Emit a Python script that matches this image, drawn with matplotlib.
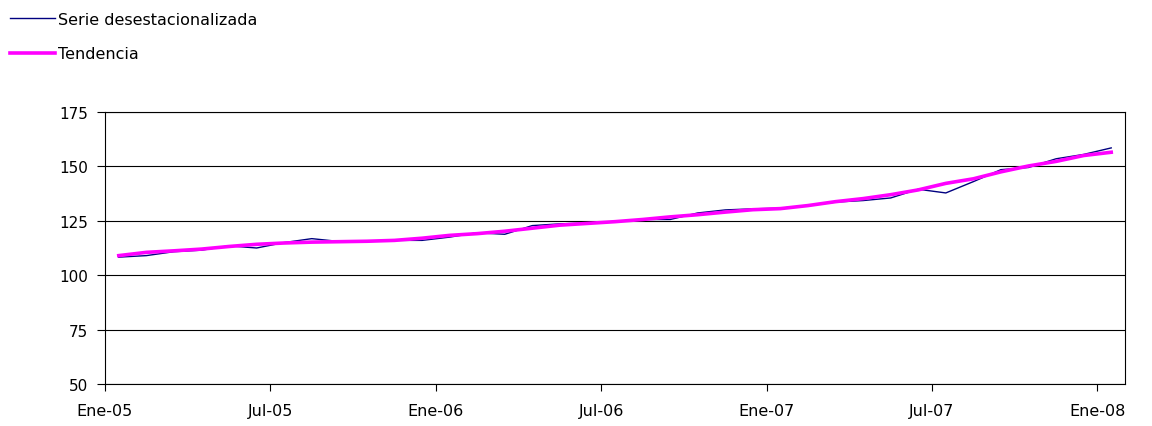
import numpy as np
import matplotlib
matplotlib.use("Agg")
import matplotlib.pyplot as plt

plt.rcParams['font.family'] = ['DejaVu Sans']

# monthly values, Ene-05 .. Ene-08
serie = [108.3, 109.0, 110.8, 111.5, 113.5, 112.5, 115.0, 116.8, 115.5, 115.5,
         116.0, 116.0, 117.5, 119.5, 118.8, 122.8, 123.6, 124.0, 124.6, 125.6,
         125.6, 128.6, 130.0, 130.5, 130.8, 132.0, 133.6, 134.3, 135.5, 139.5,
         137.8, 143.0, 148.5, 149.5, 153.5, 155.5, 158.5]
tendencia = [109.0, 110.5, 111.2, 112.0, 113.2, 114.2, 114.8, 115.2, 115.4, 115.6,
             116.0, 117.0, 118.3, 119.1, 120.2, 121.6, 123.0, 123.8, 124.6, 125.6,
             126.8, 127.8, 129.0, 130.1, 130.6, 132.0, 133.8, 135.2, 137.0, 139.2,
             142.2, 144.3, 147.5, 150.2, 152.3, 155.0, 156.5]
xlabels = ['Ene-05', 'Jul-05', 'Ene-06', 'Jul-06', 'Ene-07', 'Jul-07', 'Ene-08']
yticks = [50, 75, 100, 125, 150, 175]

x = np.arange(len(serie)) + 0.5

fig = plt.figure(figsize=(11.52, 4.27), dpi=100)
ax = fig.add_axes([105/1152, 1-385/427, (1125-105)/1152, (385-113)/427])

l1, = ax.plot(x, serie, color='#000080', lw=1.0, label='Serie desestacionalizada')
l2, = ax.plot(x, tendencia, color='#FF00FF', lw=2.6, label='Tendencia')

ax.set_xlim(0, len(serie))
ax.set_ylim(50, 175)
ax.set_yticks(yticks)
ax.set_yticklabels([str(v) for v in yticks], fontsize=11)
ax.set_xticks(np.arange(0, len(serie), 6))
ax.set_xticklabels(xlabels, fontsize=11.5)
ax.tick_params(axis='y', length=6, width=0.8, pad=6)
ax.tick_params(axis='x', length=5, width=0.8, pad=9)
ax.yaxis.grid(True, color='black', lw=0.8)
ax.set_axisbelow(True)
for s in ax.spines.values():
    s.set_color('black')
    s.set_linewidth(0.8)

fig.legend(handles=[l1, l2], loc='upper left', bbox_to_anchor=(10/1152, 1-13/427),
           frameon=False, fontsize=11.5, handlelength=2.8, handletextpad=0.2,
           labelspacing=1.2, borderpad=0, borderaxespad=0)

fig.savefig('out.png', dpi=100)
